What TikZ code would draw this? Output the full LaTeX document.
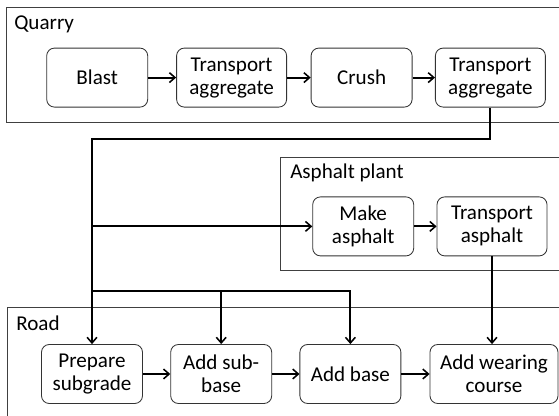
\documentclass[tikz,border=0pt]{standalone}
\usepackage{fontspec}
\setmainfont{Carlito}
\usetikzlibrary{positioning, arrows.meta}

\tikzset{
  stepbox/.style={draw=black!80, line width=0.6pt, rounded corners=5.5pt, align=center,
    minimum width=2.525cm, minimum height=1.475cm, inner sep=1pt,
    font=\fontsize{15}{16.4}\selectfont},
  wide/.style={minimum width=2.75cm},
  area/.style={draw=black!75, line width=0.6pt},
  arealabel/.style={anchor=base west, inner sep=0pt, font=\fontsize{15}{16.4}\selectfont},
  flow/.style={line width=1.35pt, -{Straight Barb[length=4pt, width=7pt, line width=1.1pt]}},
}

\begin{document}
\begin{tikzpicture}
\useasboundingbox (0, 0) rectangle (13.975, 10.4);
\clip (0, 0) rectangle (13.975, 10.4);

\draw[area] (0.15, 7.35) rectangle (14.5, 10.225);
\draw[area] (7.0, 3.65) rectangle (14.5, 6.475);
\draw[area] (0.175, -0.5) rectangle (14.5, 2.725);

\node[arealabel] (quarry) at (0.35, 9.65){Quarry};
\node[arealabel] (plant) at (7.25, 5.925){Asphalt plant};
\node[arealabel] (road) at (0.4, 2.125){Road};

\node[stepbox] (blast) at (2.43, 8.46){Blast};
\node[stepbox, wide] (ta1) at (5.79, 8.46){Transport\\aggregate};
\node[stepbox] (crush) at (9.04, 8.46){Crush};
\node[stepbox, wide] (ta2) at (12.26, 8.46){Transport\\aggregate};

\node[stepbox] (make) at (9.08, 4.74){Make\\asphalt};
\node[stepbox, wide] (tasph) at (12.3, 4.74){Transport\\asphalt};

\node[stepbox] (prep) at (2.3, 1.05){Prepare\\subgrade};
\node[stepbox] (sub) at (5.53, 1.05){Add sub-\\base};
\node[stepbox] (base) at (8.76, 1.05){Add base};
\node[stepbox, minimum width=3.2cm] (wear) at (12.35, 1.05){Add wearing\\course};

\coordinate (split) at (2.3, 6.925);
\coordinate (fork) at (2.3, 3.125);

\draw[flow] (blast) -- (ta1);
\draw[flow] (ta1) -- (crush);
\draw[flow] (crush) -- (ta2);
\draw[flow] (make) -- (tasph);
\draw[flow] (prep) -- (sub);
\draw[flow] (sub) -- (base);
\draw[flow] (base) -- (wear);

\draw[flow] (ta2.south) |- (split) -- (prep.north);
\draw[flow] (split |- make) -- (make.west);
\draw[flow] (fork) -| (base.north);
\draw[flow] (fork -| sub) -- (sub.north);
\draw[flow] (tasph.south) -- (tasph.south |- wear.north);
\end{tikzpicture}
\end{document}
